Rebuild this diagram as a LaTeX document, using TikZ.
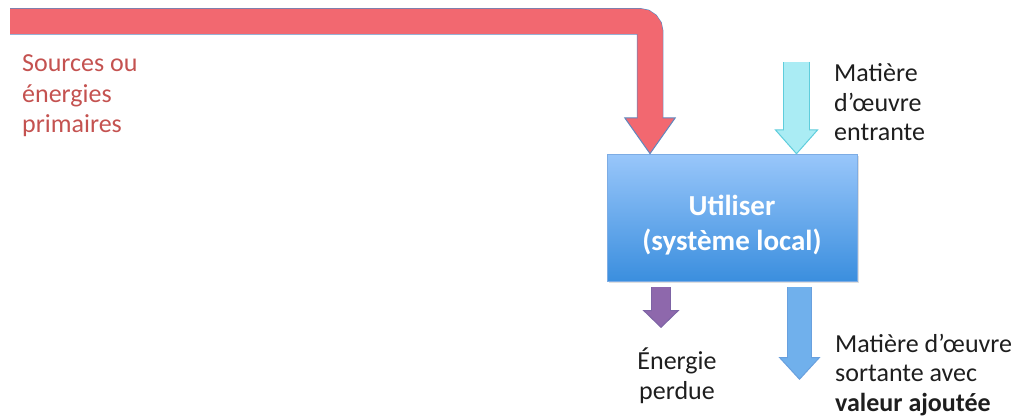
\documentclass[tikz,border=0pt]{standalone}
\usepackage{fontspec}
\setmainfont{Carlito}
\usetikzlibrary{arrows.meta,positioning,shadows}

\definecolor{redfill}{RGB}{242,104,112}
\definecolor{redline}{RGB}{95,135,190}
\definecolor{redtext}{RGB}{196,82,80}
\definecolor{boxtop}{RGB}{152,198,250}
\definecolor{boxbottom}{RGB}{58,142,222}
\definecolor{boxline}{RGB}{125,172,228}
\definecolor{cyanfill}{RGB}{170,236,244}
\definecolor{cyanline}{RGB}{95,205,220}
\definecolor{purplefill}{RGB}{142,104,172}
\definecolor{purpleline}{RGB}{125,100,165}
\definecolor{bluefill}{RGB}{112,176,236}
\definecolor{blueline}{RGB}{105,160,222}
\definecolor{darktext}{RGB}{30,30,30}

\begin{document}
\begin{tikzpicture}[
    x=1pt, y=-1pt,
    utilbox/.style={rectangle, draw=boxline, line width=1pt, top color=boxtop, bottom color=boxbottom,
        minimum width=250pt, minimum height=127pt, align=center, text=white,
        font=\fontsize{29pt}{35pt}\selectfont\bfseries,
        drop shadow={shadow xshift=1.5pt, shadow yshift=-1.5pt, opacity=0.25}},
    txt/.style={inner sep=0pt, align=left, text=darktext, font=\fontsize{26pt}{29.5pt}\selectfont}
]
\useasboundingbox (0,0) rectangle (1016,419);

\node[utilbox] (util) at (732,218.5) {\rule{0pt}{34pt}Utiliser\\(système local)};

\coordinate (src) at (10,21.5);
\coordinate (matin) at (796.5,62);
\coordinate (perte) at (661,328);
\coordinate (sortie) at (799.5,380);

% sources primaires
\draw[line width=25pt, draw=redfill, rounded corners=10pt,
    -{Triangle[length=37pt, width=52pt, fill=redfill, color=redline, line width=1pt]},
    preaction={draw=redline, line width=26.5pt, -, shorten >=36pt},
    postaction={draw=redfill, line width=25pt, -, shorten >=35pt}]
    (src) -| ([xshift=-82pt]util.north);

% matiere entrante
\draw[line width=25pt, draw=cyanfill,
    -{Triangle[length=25pt, width=44pt, fill=cyanfill, color=cyanline, line width=1pt]},
    preaction={draw=cyanline, line width=26.5pt, -, shorten >=24pt},
    postaction={draw=cyanfill, line width=25pt, -, shorten >=23pt}]
    (matin) -- (matin |- util.north);

% energie perdue
\draw[line width=18pt, draw=purplefill, shorten <=5pt,
    -{Triangle[length=18pt, width=37pt, fill=purplefill, color=purpleline, line width=1pt]},
    preaction={draw=purpleline, line width=19.5pt, -, shorten <=5pt, shorten >=17pt},
    postaction={draw=purplefill, line width=18pt, -, shorten <=5.75pt, shorten >=16pt}]
    (perte |- util.south) -- (perte);

% matiere sortante
\draw[line width=23pt, draw=bluefill, shorten <=5pt,
    -{Triangle[length=23pt, width=42pt, fill=bluefill, color=blueline, line width=1pt]},
    preaction={draw=blueline, line width=24.5pt, -, shorten <=5pt, shorten >=22pt},
    postaction={draw=bluefill, line width=23pt, -, shorten <=5.75pt, shorten >=21pt}]
    (sortie |- util.south) -- (sortie);

\node[txt, text=redtext, anchor=base west, font=\fontsize{26pt}{30.5pt}\selectfont] (sources) at (22,133) {Sources ou\\énergies\\primaires};
\node[txt, anchor=base west] (entrante) at (834,141) {Matière\\d’œuvre\\entrante};
\node[txt, anchor=base, align=center] (perdue) at (677,399) {Énergie\\perdue};
\node[txt, anchor=base west] (sortante) at (835,411) {Matière d’œuvre\\sortante avec\\\textbf{valeur ajoutée}};
\end{tikzpicture}
\end{document}
